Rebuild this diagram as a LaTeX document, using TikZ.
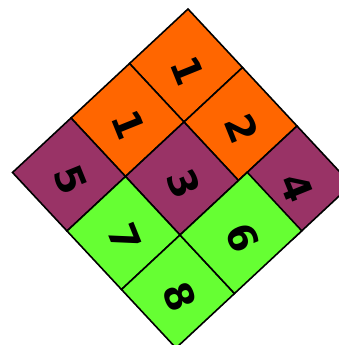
\documentclass[tikz,border=0pt]{standalone}
\usepackage{fontspec}
\setmainfont{DejaVu Sans}
\definecolor{orng}{HTML}{FF6600}
\definecolor{purp}{HTML}{993366}
\definecolor{grn}{HTML}{66FF33}
\begin{document}
\begin{tikzpicture}[x=1pt,y=1pt]
\useasboundingbox (0,-345) rectangle (339,0);
\clip (0,-345) rectangle (339,0);
\begin{scope}[shift={(188,-9)}, x={(54.5pt,-58.5pt)}, y={(-58.5pt,-54.5pt)},
  tile/.style={draw=black, line width=1.6pt, line join=miter},
  digit/.style={xshift=1.5pt, yshift=-5pt, rotate=-68, font=\fontsize{39}{39}\selectfont\bfseries, inner sep=0pt}]
% orange
\filldraw[tile, fill=orng] (0,0) -- (1,0) -- (1,1) -- (0,1) -- cycle;
\filldraw[tile, fill=orng] (0,1) -- (1,1) -- (1,2) -- (0,2) -- cycle;
\filldraw[tile, fill=orng] (1,0) -- (2,0) -- (2,1) -- (1,1) -- cycle;
% purple
\filldraw[tile, fill=purp] (1,1) -- (2,1) -- (2,2) -- (1,2) -- cycle;
\filldraw[tile, fill=purp] (0,2) -- (1,2) -- (1,3) -- (0,3) -- cycle;
\filldraw[tile, fill=purp] (2,0) -- (3,0) -- (3,1) -- (2,1) -- cycle;
% green
\filldraw[tile, fill=grn] (1,2) -- (2,2) -- (2,3) -- (1,3) -- cycle;
\filldraw[tile, fill=grn] (2,2) -- (3,2) -- (3,3) -- (2,3) -- cycle;
\filldraw[tile, fill=grn] (2,0.85) -- (3,0.85) -- (3,2) -- (2,2) -- cycle;
% digits
\node[digit] (d1a) at (0.5,0.5) {1};
\node[digit] (d1b) at (0.5,1.5) {1};
\node[digit] (d2) at (1.5,0.5) {2};
\node[digit] (d3) at (1.5,1.5) {3};
\node[digit] (d5) at (0.5,2.5) {5};
\node[digit] (d4) at (2.5,0.5) {4};
\node[digit] (d7) at (1.5,2.5) {7};
\node[digit] (d8) at (2.5,2.5) {8};
\node[digit] (d6) at (2.5,1.425) {6};
\end{scope}
\end{tikzpicture}
\end{document}
